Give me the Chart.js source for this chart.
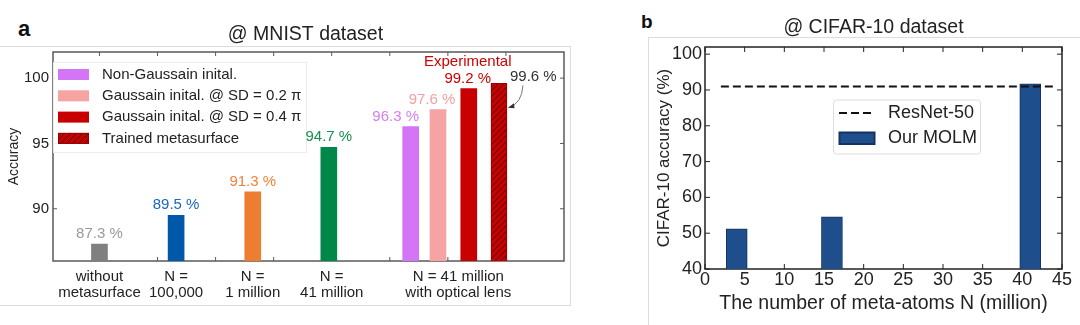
<!DOCTYPE html>
<html>
<head>
<meta charset="utf-8">
<script src="https://cdn.jsdelivr.net/npm/chart.js@4.4.1/dist/chart.umd.min.js"></script>
<style>
body{margin:0;background:#fff;width:1080px;height:325px;overflow:hidden;position:relative;font-family:"Liberation Sans",Arial,sans-serif;}
.frame{position:absolute;border:1px solid #dcdcdc;box-sizing:border-box;}
#frameA{left:-2px;top:46px;width:573px;height:260px;}
#frameB{left:648px;top:37px;width:440px;height:300px;}
.tag{position:absolute;font-weight:bold;color:#111;line-height:normal;}
#tagA{left:18px;top:16px;font-size:22px;}
#tagB{left:641px;top:11px;font-size:19px;}
canvas{position:absolute;top:0;}
#cA{left:0;}
#cB{left:648px;}
</style>
</head>
<body>
<div class="frame" id="frameA"></div>
<div class="frame" id="frameB"></div>
<div class="tag" id="tagA">a</div>
<div class="tag" id="tagB">b</div>
<canvas id="cA" width="571" height="325"></canvas>
<canvas id="cB" width="432" height="325"></canvas>
<script>
// ---- panel a : MNIST ----
const xPosA = [1, 2.32, 3.64, 4.95, 6.36, 6.83, 7.36, 7.88];
const accA = [87.3, 89.5, 91.3, 94.7, 96.3, 97.6, 99.2, 99.6];
const catPosA = [1, 2.32, 3.64, 5.0, 7.18];
const catLabelsA = [["without", "metasurface"], ["N =", "100,000"], ["N =", "1 million"], ["N =", "41 million"], ["N = 41 million", "with optical lens"]];
const legendA = ["Non-Gaussain inital.", "Gaussain inital. @ SD = 0.2 π", "Gaussain inital. @ SD = 0.4 π", "Trained metasurface"];
const yTicksA = [90, 95, 100];
const xTicksA = [1, 2, 3, 4, 5, 6, 7, 8];

// ---- panel b : CIFAR-10 ----
const nB = [4, 16, 41];
const accB = [51.2, 54.6, 91.7];
const resnetB = 91;
const resnetSpanB = [2, 44];
const xTicksB = [0, 5, 10, 15, 20, 25, 30, 35, 40, 45];
const yTicksB = [40, 50, 60, 70, 80, 90, 100];

const FONT = '"Liberation Sans", Arial, sans-serif';

function makeHatch() {
    const c = document.createElement('canvas');
    c.width = 6; c.height = 6;
    const g = c.getContext('2d');
    g.fillStyle = '#c40000';
    g.fillRect(0, 0, 6, 6);
    g.strokeStyle = '#3a0000';
    g.lineWidth = 0.8;
    g.beginPath();
    g.moveTo(0, 6); g.lineTo(6, 0);
    g.moveTo(-1, 1); g.lineTo(1, -1);
    g.moveTo(5, 7); g.lineTo(7, 5);
    g.stroke();
    return g.createPattern(c, 'repeat');
}
const hatch = makeHatch();

const barColorsA = ['#808080', '#0058aa', '#ed7d31', '#00884a', '#d474f7', '#f5a3a3', '#c80000', hatch];
const labelColorsA = ['#9a9a9a', '#1a66c0', '#f0803a', '#1a9050', '#d67ef5', '#f5a0a0', '#d00000', '#333'];
const labelDxA = [0, 0, 0, 0, -15, -6, -1, 0];

function line(ctx, x1, y1, x2, y2) {
    ctx.beginPath(); ctx.moveTo(x1, y1); ctx.lineTo(x2, y2); ctx.stroke();
}

function frameTicks(chart, color, width, len) {
    const {ctx, chartArea: a, scales: {x, y}} = chart;
    ctx.save();
    ctx.strokeStyle = color;
    ctx.lineWidth = width;
    ctx.strokeRect(a.left, a.top, a.right - a.left, a.bottom - a.top);
    ctx.lineWidth = 1;
    x.ticks.forEach(t => {
        const px = x.getPixelForValue(t.value);
        line(ctx, px, a.top, px, a.top + len);
        line(ctx, px, a.bottom, px, a.bottom - len);
    });
    y.ticks.forEach(t => {
        const py = y.getPixelForValue(t.value);
        line(ctx, a.left, py, a.left + len, py);
        line(ctx, a.right, py, a.right - len, py);
    });
    ctx.restore();
}

const panelA = {
    id: 'panelA',
    beforeDatasetsDraw(chart) {
        frameTicks(chart, '#5a5a5a', 1.5, 4);
    },
    afterDatasetsDraw(chart) {
        const {ctx, chartArea: a, scales: {x, y}} = chart;
        ctx.save();
        ctx.textBaseline = 'middle';
        // legend
        const lx = a.left, ly = a.top + 10;
        ctx.fillStyle = 'rgba(255,255,255,0.9)';
        ctx.strokeStyle = '#ececec';
        ctx.lineWidth = 1;
        ctx.fillRect(lx, ly, 253, 90);
        ctx.strokeRect(lx + 0.5, ly + 0.5, 253, 90);
        ctx.textAlign = 'left';
        ctx.font = '15px ' + FONT;
        legendA.forEach((t, k) => {
            const ry = ly + 12.5 + k * 21.3;
            ctx.fillStyle = barColorsA[4 + k];
            ctx.fillRect(lx + 5, ry - 5.5, 31, 11);
            if (k === 3) {
                ctx.strokeStyle = '#900';
                ctx.strokeRect(lx + 5.5, ry - 5, 30, 10);
            }
            ctx.fillStyle = '#222';
            ctx.fillText(t, lx + 49, ry);
        });
        ctx.textAlign = 'center';
        // title
        ctx.fillStyle = '#222';
        ctx.font = '19.5px ' + FONT;
        ctx.fillText('@ MNIST dataset', (a.left + a.right) / 2 - 3, 35);
        // value labels
        ctx.font = '15px ' + FONT;
        accA.forEach((v, i) => {
            const px = x.getPixelForValue(xPosA[i]);
            const py = y.getPixelForValue(v);
            ctx.fillStyle = labelColorsA[i];
            if (i === 7) {
                ctx.textAlign = 'left';
                ctx.fillText(v.toFixed(1) + ' %', px + 11, py - 6);
                // curved arrow to the trained bar
                ctx.strokeStyle = '#555';
                ctx.lineWidth = 0.8;
                ctx.beginPath();
                ctx.moveTo(px + 24, py + 2);
                ctx.quadraticCurveTo(px + 23, py + 20, px + 10, py + 24);
                ctx.stroke();
                ctx.fillStyle = '#333';
                ctx.beginPath();
                ctx.moveTo(px + 9, py + 24.5);
                ctx.lineTo(px + 15, py + 20);
                ctx.lineTo(px + 15.5, py + 25);
                ctx.closePath();
                ctx.fill();
                ctx.textAlign = 'center';
            } else {
                ctx.fillText(v.toFixed(1) + ' %', px + labelDxA[i], py - 10);
            }
            if (i === 6) {
                ctx.fillStyle = '#d00000';
                ctx.fillText('Experimental', px - 1, py - 27);
            }
        });
        // category labels under axis
        ctx.fillStyle = '#222';
        ctx.font = '15px ' + FONT;
        catLabelsA.forEach((lines, i) => {
            const px = x.getPixelForValue(catPosA[i]);
            lines.forEach((t, k) => ctx.fillText(t, px, a.bottom + 16 + k * 16));
        });
        ctx.restore();
    }
};

new Chart(document.getElementById('cA'), {
    type: 'bar',
    data: {
        datasets: [{
            data: xPosA.map((x, i) => ({x: x, y: accA[i]})),
            backgroundColor: barColorsA,
            borderColor: ['#0000', '#0000', '#0000', '#0000', '#0000', '#0000', '#0000', '#900'],
            borderWidth: [0, 0, 0, 0, 0, 0, 0, 1],
            borderSkipped: 'bottom',
            barThickness: 16
        }]
    },
    options: {
        responsive: false,
        animation: false,
        devicePixelRatio: 1,
        layout: {padding: {top: 52, right: 7, left: 0, bottom: 0}},
        plugins: {legend: {display: false}, tooltip: {enabled: false}},
        scales: {
            x: {
                type: 'linear', min: 0.2, max: 9.0, offset: false,
                grid: {display: false, drawTicks: false}, border: {display: false},
                ticks: {display: false},
                afterBuildTicks: s => { s.ticks = xTicksA.map(v => ({value: v})); },
                afterFit: s => { s.height = 64; }
            },
            y: {
                min: 86, max: 102,
                grid: {display: false, drawTicks: false}, border: {display: false},
                ticks: {padding: 4, color: '#222', font: {size: 15, family: FONT}},
                title: {display: true, text: 'Accuracy', color: '#222', font: {size: 14, family: FONT}, padding: {top: 5.5, bottom: 0}},
                afterBuildTicks: s => { s.ticks = yTicksA.map(v => ({value: v})); },
                afterFit: s => { s.width = 53; }
            }
        }
    },
    plugins: [panelA]
});

// ---- panel b ----
const panelB = {
    id: 'panelB',
    beforeDatasetsDraw(chart) {
        frameTicks(chart, '#222', 1.5, 5);
    },
    afterDatasetsDraw(chart) {
        const {ctx, chartArea: a} = chart;
        const ds = chart.data.datasets;
        ctx.save();
        ctx.fillStyle = '#222';
        ctx.textAlign = 'center';
        ctx.textBaseline = 'middle';
        ctx.font = '19.5px ' + FONT;
        ctx.fillText('@ CIFAR-10 dataset', (a.left + a.right) / 2 - 10, 28);
        // legend
        const lx = 185, ly = 99.5;
        ctx.fillStyle = 'rgba(255,255,255,0.9)';
        ctx.fillRect(lx, ly, 148, 54.5);
        ctx.strokeStyle = '#dddddd';
        ctx.lineWidth = 1;
        ctx.beginPath();
        ctx.roundRect(lx + 0.5, ly + 0.5, 147, 54, 3);
        ctx.stroke();
        ctx.strokeStyle = ds[0].borderColor;
        ctx.lineWidth = ds[0].borderWidth;
        ctx.setLineDash(ds[0].borderDash);
        line(ctx, lx + 6, ly + 13.5, lx + 42, ly + 13.5);
        ctx.setLineDash([]);
        ctx.fillStyle = ds[1].backgroundColor;
        ctx.fillRect(lx + 6, ly + 32.5, 36, 12.5);
        ctx.strokeStyle = ds[1].borderColor;
        ctx.strokeRect(lx + 6.5, ly + 33, 35, 11.5);
        ctx.fillStyle = '#222';
        ctx.textAlign = 'left';
        ctx.font = '18px ' + FONT;
        ctx.fillText(ds[0].label, lx + 55, ly + 14);
        ctx.fillText(ds[1].label, lx + 55, ly + 38.5);
        ctx.restore();
    }
};

new Chart(document.getElementById('cB'), {
    type: 'bar',
    data: {
        datasets: [{
            type: 'line',
            label: 'ResNet-50',
            data: resnetSpanB.map(x => ({x: x, y: resnetB})),
            borderColor: '#111',
            borderWidth: 2,
            borderDash: [8, 4],
            pointRadius: 0,
            order: 0
        }, {
            type: 'bar',
            label: 'Our MOLM',
            data: nB.map((x, i) => ({x: x, y: accB[i]})),
            backgroundColor: '#1f4e8c',
            borderColor: '#14345f',
            borderWidth: 1,
            borderSkipped: 'bottom',
            barThickness: 21,
            order: 1
        }]
    },
    options: {
        responsive: false,
        animation: false,
        devicePixelRatio: 1,
        layout: {padding: {top: 47, right: 18, left: 0, bottom: 0}},
        plugins: {legend: {display: false}, tooltip: {enabled: false}},
        scales: {
            x: {
                type: 'linear', min: 0, max: 45, offset: false,
                grid: {display: false, drawTicks: false}, border: {display: false},
                ticks: {padding: 0, color: '#222', font: {size: 18, family: FONT}, maxRotation: 0},
                title: {display: true, text: 'The number of meta-atoms N (million)', color: '#222', font: {size: 19.5, family: FONT}, padding: {top: 0, bottom: 10}},
                afterBuildTicks: s => { s.ticks = xTicksB.map(v => ({value: v})); },
                afterFit: s => { s.height = 56; }
            },
            y: {
                min: 40, max: 102,
                grid: {display: false, drawTicks: false}, border: {display: false},
                ticks: {padding: 3, color: '#222', font: {size: 18, family: FONT}},
                title: {display: true, text: 'CIFAR-10 accuracy (%)', color: '#222', font: {size: 17, family: FONT}, padding: {top: 6, bottom: 0}},
                afterBuildTicks: s => { s.ticks = yTicksB.map(v => ({value: v})); },
                afterFit: s => { s.width = 57; }
            }
        }
    },
    plugins: [panelB]
});
</script>
</body>
</html>
